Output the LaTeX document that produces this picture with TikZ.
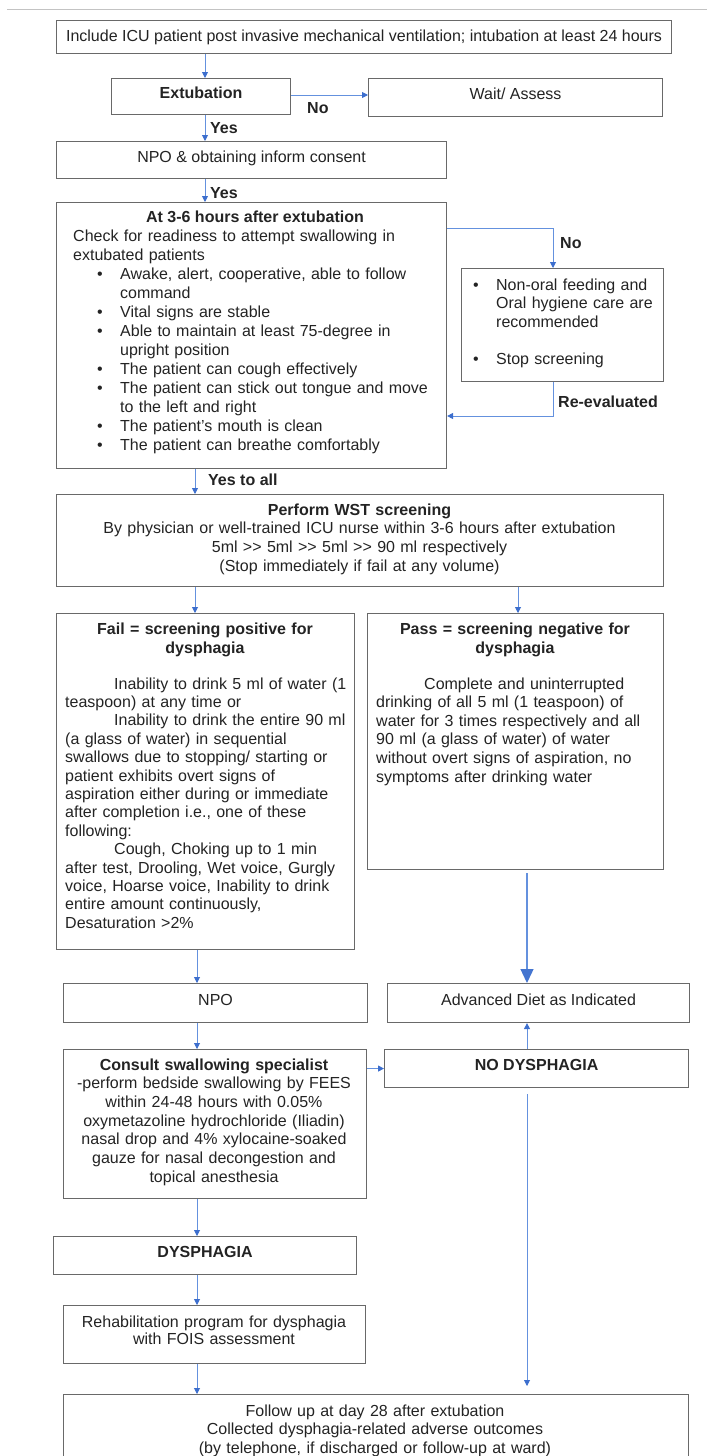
\documentclass[tikz,border=0pt]{standalone}
\usepackage{fontspec}
\setmainfont{Liberation Sans}
\usetikzlibrary{arrows.meta}
\definecolor{boxc}{RGB}{105,105,105}
\definecolor{txtc}{RGB}{35,35,35}
\definecolor{linec}{RGB}{100,145,222}
\definecolor{headc}{RGB}{60,110,205}
\definecolor{rulec}{RGB}{195,195,195}
\newcommand{\bitem}{\makebox[47pt][l]{\hspace*{24pt}•}}
\newcommand{\bcont}{\hspace*{47pt}}
\newcommand{\nitem}{\makebox[23pt][l]{•}}
\newcommand{\ncont}{\hspace*{23pt}}
\begin{document}
\begin{tikzpicture}[x=1pt,y=-1pt,
  box/.style={draw=boxc, line width=1.1pt, rectangle, inner sep=0pt, anchor=north west,
    text=txtc, font=\fontsize{16}{18.7}\selectfont, text height=11.5pt, text depth=7.5pt},
  bbox/.style={box, font=\fontsize{16}{18.7}\selectfont\bfseries},
  txt/.style={inner sep=0pt, text=txtc, font=\fontsize{16}{18.7}\selectfont},
  btxt/.style={inner sep=0pt, text=txtc, font=\fontsize{16}{19}\selectfont\bfseries},
  lbl/.style={btxt, anchor=base west},
  arr/.style={draw=linec, line width=0.9pt, -{Triangle[length=6pt,width=6pt,color=headc]}},
  bigarr/.style={draw=linec, line width=1.3pt, -{Triangle[length=14pt,width=13pt,color=headc!80!linec]}}
]
\useasboundingbox (0,0) rectangle (707,1456);
\clip (0,0) rectangle (707,1456);
\draw[rulec, line width=1pt] (7,9) -- (707,9);

% boxes
\node[box, minimum width=615pt, minimum height=33pt, text depth=2.5pt] (b1) at (56,20)
  {Include ICU patient post invasive mechanical ventilation; intubation at least 24 hours};
\node[bbox, minimum width=179pt, minimum height=36pt] (ext) at (111,78) {Extubation};
\node[box, minimum width=294pt, minimum height=38pt] (wait) at (368,78) {Wait/ Assess};
\node[box, minimum width=390pt, minimum height=37pt] (npo1) at (56,141) {NPO \& obtaining inform consent};
\node[box, minimum width=390pt, minimum height=266pt] (big) at (56,202) {};
\node[box, minimum width=202pt, minimum height=113pt] (nonoral) at (461,268) {};
\node[box, minimum width=607pt, minimum height=92pt] (wst) at (56,494) {};
\node[box, minimum width=298pt, minimum height=336pt] (fail) at (56,613) {};
\node[box, minimum width=296pt, minimum height=256pt] (pass) at (367,613) {};
\node[box, minimum width=304pt, minimum height=39pt] (npo) at (63,983) {NPO};
\node[box, minimum width=302pt, minimum height=39pt] (adv) at (387,983) {Advanced Diet as Indicated};
\node[box, minimum width=303pt, minimum height=149pt] (consult) at (63,1049) {};
\node[bbox, minimum width=304pt, minimum height=38pt] (nodys) at (384,1049) {NO DYSPHAGIA};
\node[bbox, minimum width=303pt, minimum height=38pt] (dys) at (53,1236) {DYSPHAGIA};
\node[box, minimum width=302pt, minimum height=58pt] (rehab) at (63,1305) {};
\node[box, minimum width=625pt, minimum height=90pt] (final) at (63,1394) {};

% multi-line texts
\node[btxt, anchor=base] (tbig) at (255,222) {At 3-6 hours after extubation};
\node[txt, anchor=base west, text width=380pt, align=left, font=\fontsize{16}{19}\selectfont] (bbig) at (73,241)
  {Check for readiness to attempt swallowing in\\
   extubated patients\\
   \bitem Awake, alert, cooperative, able to follow\\
   \bcont command\\
   \bitem Vital signs are stable\\
   \bitem Able to maintain at least 75-degree in\\
   \bcont upright position\\
   \bitem The patient can cough effectively\\
   \bitem The patient can stick out tongue and move\\
   \bcont to the left and right\\
   \bitem The patient’s mouth is clean\\
   \bitem The patient can breathe comfortably};
\node[txt, anchor=base west, text width=220pt, align=left, font=\fontsize{16}{18.5}\selectfont] (tnon) at (473,290)
  {\nitem Non-oral feeding and\\
   \ncont Oral hygiene care are\\
   \ncont recommended\\
   \mbox{}\\
   \nitem Stop screening};
\node[txt, anchor=base, text width=640pt, align=center] (twst) at (359.5,515)
  {{\bfseries Perform WST screening}\\
   By physician or well-trained ICU nurse within 3-6 hours after extubation\\
   5ml >\kern0pt> 5ml >\kern0pt> 5ml >\kern0pt> 90 ml respectively\\
   (Stop immediately if fail at any volume)};
\node[btxt, anchor=base, text width=320pt, align=center] (tfail) at (205,634)
  {Fail = screening positive for\\ dysphagia};
\node[txt, anchor=base west, text width=320pt, align=left, font=\fontsize{16}{18.4}\selectfont] (bfail) at (65,689)
  {\hspace*{49pt}Inability to drink 5 ml of water (1\\
   teaspoon) at any time or\\
   \hspace*{49pt}Inability to drink the entire 90 ml\\
   (a glass of water) in sequential\\
   swallows due to stopping/ starting or\\
   patient exhibits overt signs of\\
   aspiration either during or immediate\\
   after completion i.e., one of these\\
   following:\\
   \hspace*{49pt}Cough, Choking up to 1 min\\
   after test, Drooling, Wet voice, Gurgly\\
   voice, Hoarse voice, Inability to drink\\
   entire amount continuously,\\
   Desaturation >2\%};
\node[btxt, anchor=base, text width=320pt, align=center] (tpass) at (515,634)
  {Pass = screening negative for\\ dysphagia};
\node[txt, anchor=base west, text width=320pt, align=left, font=\fontsize{16}{18.6}\selectfont] (bpass) at (376,689)
  {\hspace*{48pt}Complete and uninterrupted\\
   drinking of all 5 ml (1 teaspoon) of\\
   water for 3 times respectively and all\\
   90 ml (a glass of water) of water\\
   without overt signs of aspiration, no\\
   symptoms after drinking water};
\node[txt, anchor=base, text width=330pt, align=center] (tcons) at (214,1070)
  {{\bfseries Consult swallowing specialist}\\
   -perform bedside swallowing by FEES\\
   within 24-48 hours with 0.05\%\\
   oxymetazoline hydrochloride (Iliadin)\\
   nasal drop and 4\% xylocaine-soaked\\
   gauze for nasal decongestion and\\
   topical anesthesia};
\node[txt, anchor=base, text width=330pt, align=center, font=\fontsize{16}{17.6}\selectfont] (treh) at (214,1327)
  {Rehabilitation program for dysphagia\\ with FOIS assessment};
\node[txt, anchor=base, text width=600pt, align=center, font=\fontsize{16}{18.5}\selectfont] (tfin) at (375,1416)
  {Follow up at day 28 after extubation\\
   Collected dysphagia-related adverse outcomes\\
   (by telephone, if discharged or follow-up at ward)};

% labels
\node[lbl] (lno1) at (307,113) {No};
\node[lbl] (lyes1) at (210,133) {Yes};
\node[lbl] (lyes2) at (210,198) {Yes};
\node[lbl] (lno2) at (560,248) {No};
\node[lbl] (lre) at (558,407) {Re-evaluated};
\node[lbl] (lyall) at (208,485) {Yes to all};

% connector guides
\coordinate (cA) at (205,0);
\coordinate (cB) at (195,0);
\coordinate (cC) at (518,0);
\coordinate (cD) at (527,0);
\coordinate (cE) at (197,0);
\coordinate (cF) at (553,0);
\coordinate (rN) at (0,228);
\coordinate (rR) at (0,416);
\coordinate (rX) at (0,95);

% connectors
\draw[arr] (b1.south -| cA) -- (ext.north -| cA);
\draw[arr] (ext.east |- rX) -- (wait.west |- rX);
\draw[arr] (ext.south -| cA) -- (npo1.north -| cA);
\draw[arr] (npo1.south -| cA) -- (big.north -| cA);
\draw[arr] (big.east |- rN) -| (nonoral.north -| cF);
\draw[arr] (nonoral.south -| cF) |- (big.east |- rR);
\draw[arr] (big.south -| cB) -- (wst.north -| cB);
\draw[arr] (wst.south -| cB) -- (fail.north -| cB);
\draw[arr] (wst.south -| cC) -- (pass.north -| cC);
\draw[bigarr, shorten <=3pt] (pass.south -| cD) -- (adv.north -| cD);
\draw[arr] (fail.south -| cE) -- (npo.north -| cE);
\draw[arr] (npo.south -| cE) -- (consult.north -| cE);
\draw[arr] (consult.east |- nodys.west) -- (nodys.west);
\draw[arr] (nodys.north -| cD) -- (adv.south -| cD);
\draw[arr] (consult.south -| cE) -- (dys.north -| cE);
\draw[arr] (dys.south -| cE) -- (rehab.north -| cE);
\draw[arr] (rehab.south -| cE) -- (final.north -| cE);
\draw[arr, shorten <=6pt, shorten >=8pt] (nodys.south -| cD) -- (final.north -| cD);
\end{tikzpicture}
\end{document}
